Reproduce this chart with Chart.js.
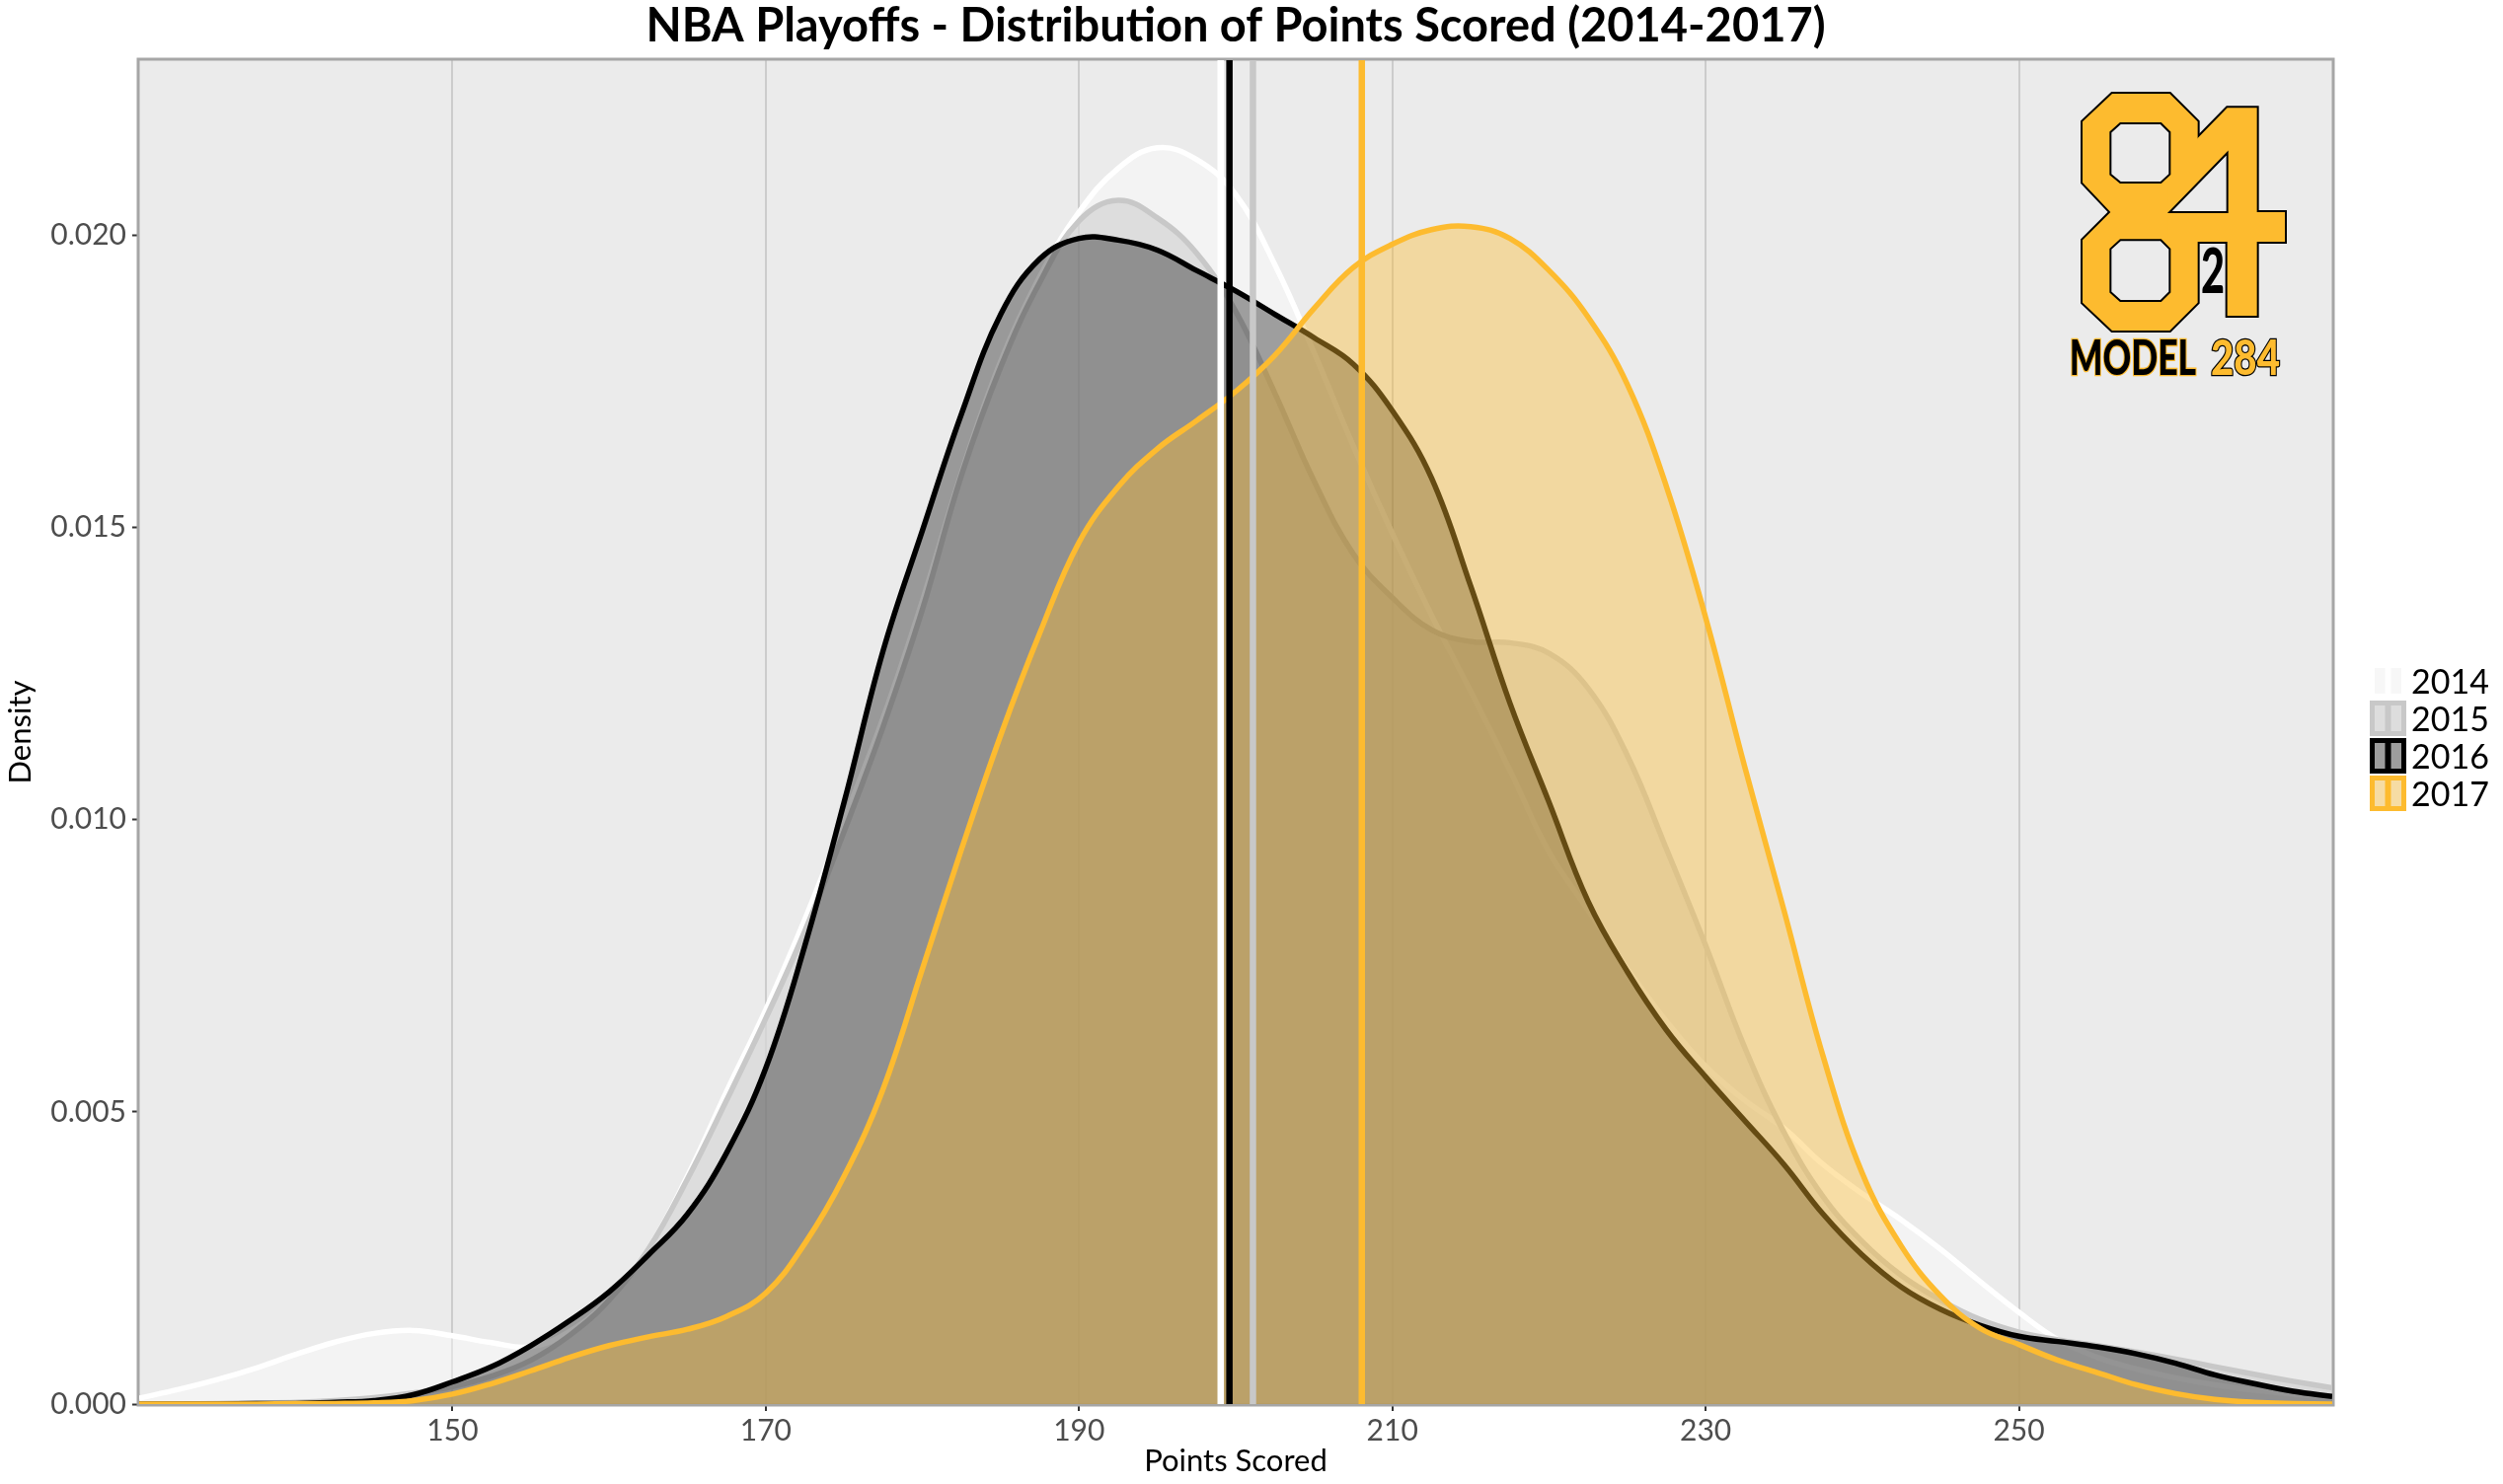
<!DOCTYPE html>
<html>
<head>
<meta charset="utf-8">
<title>NBA Playoffs - Distribution of Points Scored (2014-2017)</title>
<script src="https://cdn.jsdelivr.net/npm/chart.js@4.4.1/dist/chart.umd.min.js"></script>
<style>
  html, body { margin: 0; padding: 0; background: #ffffff; }
  #wrap { width: 2536px; height: 1504px; }
</style>
</head>
<body>
<div id="wrap"><canvas id="densityChart" width="2536" height="1504"></canvas></div>
<script>
// points scored grid (x) and estimated density per season
const points = [130, 132.5, 135, 137.5, 140, 142.5, 145, 147.5, 150, 152.5, 155, 157.5, 160, 162.5, 165, 167.5,
  170, 172.5, 175, 177.5, 180, 182.5, 185, 187.5, 190, 192.5, 195, 197.5, 200, 202.5, 205, 207.5,
  210, 212.5, 215, 217.5, 220, 222.5, 225, 227.5, 230, 232.5, 235, 237.5, 240, 242.5, 245, 247.5,
  250, 252.5, 255, 257.5, 260, 262.5, 265, 267.5, 270];

const density2014 = [0.00010, 0.00025, 0.00042, 0.00062, 0.00085, 0.00106, 0.00121, 0.00126, 0.00117, 0.00105, 0.00098, 0.00125,
  0.00180, 0.00265, 0.00390, 0.00535, 0.00675, 0.00830, 0.01000, 0.01175, 0.01375, 0.01595, 0.01785, 0.01930,
  0.02040, 0.02115, 0.02150, 0.02130, 0.02070, 0.01950, 0.01800, 0.01640, 0.01490, 0.01350, 0.01220, 0.01085,
  0.00945, 0.00845, 0.00745, 0.00655, 0.00578, 0.00520, 0.00472, 0.00410, 0.00360, 0.00315, 0.00265, 0.00210,
  0.00157, 0.00110, 0.00080, 0.00060, 0.00045, 0.00033, 0.00024, 0.00017, 0.00012];

const density2015 = [0, 0, 0.00001, 0.00002, 0.00003, 0.00006, 0.00011, 0.00019, 0.00030, 0.00048, 0.00075, 0.00118,
  0.00178, 0.00265, 0.00385, 0.00520, 0.00660, 0.00810, 0.00980, 0.01160, 0.01360, 0.01590, 0.01775, 0.01920,
  0.02025, 0.02060, 0.02030, 0.01970, 0.01870, 0.01730, 0.01580, 0.01455, 0.01380, 0.01325, 0.01305, 0.01303,
  0.01285, 0.01225, 0.01110, 0.00950, 0.00785, 0.00610, 0.00465, 0.00355, 0.00278, 0.00220, 0.00178, 0.00145,
  0.00123, 0.00110, 0.00100, 0.00089, 0.00077, 0.00064, 0.00051, 0.00039, 0.00028];

const density2016 = [0, 0, 0, 0.00001, 0.00001, 0.00003, 0.00006, 0.00016, 0.00038, 0.00064, 0.00100, 0.00143,
  0.00192, 0.00255, 0.00325, 0.00430, 0.00575, 0.00785, 0.01030, 0.01290, 0.01495, 0.01695, 0.01865, 0.01960,
  0.01995, 0.01992, 0.01975, 0.01940, 0.01905, 0.01865, 0.01825, 0.01780, 0.01700, 0.01585, 0.01400, 0.01200,
  0.01030, 0.00860, 0.00740, 0.00640, 0.00560, 0.00485, 0.00410, 0.00325, 0.00255, 0.00200, 0.00162, 0.00135,
  0.00116, 0.00107, 0.00098, 0.00086, 0.00070, 0.00050, 0.00035, 0.00022, 0.00013];

const density2017 = [0, 0, 0, 0, 0.00001, 0.00001, 0.00002, 0.00006, 0.00017, 0.00035, 0.00057, 0.00080,
  0.00100, 0.00115, 0.00128, 0.00150, 0.00190, 0.00275, 0.00390, 0.00540, 0.00745, 0.00950, 0.01145, 0.01320,
  0.01475, 0.01570, 0.01635, 0.01683, 0.01733, 0.01795, 0.01875, 0.01945, 0.01985, 0.02010, 0.02015, 0.01995,
  0.01940, 0.01860, 0.01745, 0.01570, 0.01346, 0.01090, 0.00845, 0.00595, 0.00395, 0.00270, 0.00185, 0.00130,
  0.00102, 0.00075, 0.00054, 0.00033, 0.00018, 0.00008, 0.00003, 0.00001, 0];

const years = ['2014', '2015', '2016', '2017'];
const meanPoints = [199.04, 201.1, 199.6, 208.05];
const xTicks = [150, 170, 190, 210, 230, 250];
const yTicks = [0, 0.005, 0.010, 0.015, 0.020];

const lineColors = ['#ffffff', '#c8c8c8', '#000000', '#fdbb2f'];
const fillColors = ['rgba(255,255,255,0.4)', 'rgba(200,200,200,0.5)', 'rgba(0,0,0,0.35)', 'rgba(253,187,47,0.4)'];
const keyFills = ['#f7f7f7', '#dddddd', '#9d9d9d', '#f6dca4'];
const gold = '#fdbb2f';
const fontFamily = 'Lato, "Open Sans", sans-serif';

const series = [density2014, density2015, density2016, density2017];

let datasets = years.map((y, i) => ({
  label: y,
  data: points.map((p, j) => ({ x: p, y: series[i][j] })),
  borderColor: lineColors[i],
  backgroundColor: fillColors[i],
  borderWidth: 5.5,
  fill: 'origin',
  tension: 0.4,
  pointRadius: 0,
  order: 3 - i
}));

function poly(ctx, pts) {
  ctx.beginPath();
  ctx.moveTo(pts[0][0], pts[0][1]);
  for (let i = 1; i < pts.length; i++) ctx.lineTo(pts[i][0], pts[i][1]);
  ctx.closePath();
}

function drawLogo(ctx) {
  // coordinates in thirds of a pixel, origin near the top-right of the panel
  const eight = [[270,105],[445,105],[530,190],[530,375],[440,465],[530,555],[530,740],[445,825],
    [270,825],[180,740],[180,550],[265,465],[180,375],[180,190]];
  const four = [[530,240],[620,148],[710,148],[710,465],[795,465],[795,555],[710,555],[710,780],
    [620,780],[620,555],[440,555],[440,330]];
  const holes = [
    [[295,195],[418,195],[445,222],[445,350],[418,375],[295,375],[265,350],[265,222]],
    [[295,550],[418,550],[445,577],[445,708],[418,735],[295,735],[265,708],[265,577]],
    [[620,285],[620,465],[445,465]]
  ];
  ctx.save();
  ctx.translate(2050, 60);
  ctx.scale(1 / 3, 1 / 3);
  ctx.lineJoin = 'miter';
  ctx.strokeStyle = '#000';
  ctx.lineWidth = 12;
  poly(ctx, eight); ctx.stroke();
  poly(ctx, four); ctx.stroke();
  ctx.fillStyle = gold;
  poly(ctx, eight); ctx.fill();
  poly(ctx, four); ctx.fill();
  ctx.lineWidth = 6;
  holes.forEach(h => {
    poly(ctx, h);
    ctx.fillStyle = '#ebebeb';
    ctx.fill();
    ctx.stroke();
  });

  function fitText(txt, x, w, base, size, fill, stroke, lw) {
    ctx.save();
    ctx.font = '900 ' + size + 'px ' + fontFamily;
    ctx.textAlign = 'left';
    ctx.textBaseline = 'alphabetic';
    const mw = ctx.measureText(txt).width;
    ctx.translate(x, base);
    ctx.scale(w / mw, 1);
    if (lw) {
      ctx.lineWidth = lw;
      ctx.strokeStyle = stroke;
      ctx.strokeText(txt, 0, 0);
    }
    ctx.fillStyle = fill;
    ctx.fillText(txt, 0, 0);
    ctx.restore();
  }
  // small "2" tucked under the crossbar
  fitText('2', 540, 72, 712, 190, '#000', '#000', 0);
  // MODEL 284 wordmark
  fitText('MODEL', 140, 385, 960, 146, '#000', gold, 8);
  fitText('284', 570, 210, 960, 146, gold, '#000', 8);
  ctx.restore();
}

const ggDecor = {
  id: 'ggDecor',
  beforeDraw(chart) {
    const { ctx, chartArea: a } = chart;
    ctx.save();
    ctx.fillStyle = '#ffffff';
    ctx.fillRect(0, 0, chart.width, chart.height);
    ctx.fillStyle = '#ebebeb';
    ctx.fillRect(a.left, a.top, a.right - a.left, a.bottom - a.top);
    ctx.restore();
  },
  beforeDatasetsDraw(chart) {
    const { ctx, chartArea: a } = chart;
    ctx.save();
    ctx.strokeStyle = '#a6a6a6';
    ctx.lineWidth = 3;
    ctx.strokeRect(a.left - 1, a.top - 1, a.right - a.left + 2, a.bottom - a.top + 2);
    ctx.restore();
  },
  afterDatasetsDraw(chart) {
    const { ctx, chartArea: a, scales } = chart;
    ctx.save();
    ctx.beginPath();
    ctx.rect(a.left, a.top, a.right - a.left, a.bottom - a.top);
    ctx.clip();
    meanPoints.forEach((m, i) => {
      const px = scales.x.getPixelForValue(m);
      ctx.strokeStyle = lineColors[i];
      ctx.lineWidth = 6.5;
      ctx.beginPath();
      ctx.moveTo(px, a.top);
      ctx.lineTo(px, a.bottom);
      ctx.stroke();
    });
    ctx.restore();
    drawLogo(ctx);
  },
  afterDraw(chart) {
    const { ctx, chartArea: a } = chart;
    ctx.save();
    // title
    ctx.fillStyle = '#000';
    ctx.font = 'bold 47px ' + fontFamily;
    ctx.textAlign = 'center';
    ctx.textBaseline = 'alphabetic';
    ctx.fillText('NBA Playoffs - Distribution of Points Scored (2014-2017)', (a.left + a.right) / 2, 42);

    // legend
    const kx = 2401, kw = 37, kh = 36;
    years.forEach((y, i) => {
      const ky = 672 + i * 38;
      ctx.fillStyle = '#f2f2f2';
      ctx.fillRect(kx, ky, kw, kh);
      ctx.fillStyle = keyFills[i];
      ctx.fillRect(kx, ky, kw, kh);
      ctx.strokeStyle = lineColors[i];
      ctx.lineWidth = 5;
      ctx.strokeRect(kx + 2.5, ky + 2.5, kw - 5, kh - 5);
      ctx.fillStyle = lineColors[i];
      ctx.fillRect(kx + kw / 2 - 3, ky, 6, kh);
      ctx.fillStyle = '#000';
      ctx.font = '34px ' + fontFamily;
      ctx.textAlign = 'left';
      ctx.fillText(y, kx + 42, ky + 31);
    });
    ctx.restore();
  }
};

const ctx = document.getElementById('densityChart');
Chart.defaults.font.family = fontFamily;

new Chart(ctx, {
  type: 'line',
  data: { datasets: datasets },
  options: {
    responsive: false,
    animation: false,
    devicePixelRatio: 1,
    layout: { padding: { top: 61, right: 173, left: 0, bottom: 0 } },
    plugins: {
      legend: { display: false },
      title: { display: false },
      tooltip: { enabled: false }
    },
    scales: {
      x: {
        type: 'linear',
        min: 130,
        max: 270,
        afterBuildTicks: s => { s.ticks = xTicks.map(v => ({ value: v })); },
        afterFit: s => { s.height = 81; },
        border: { display: false },
        grid: { color: '#cccccc', lineWidth: 2, tickColor: '#333333', tickLength: 7, tickWidth: 2 },
        ticks: { color: '#4d4d4d', font: { size: 30 }, padding: 2, maxRotation: 0 },
        title: { display: true, text: 'Points Scored', color: '#000', font: { size: 31 }, padding: { top: 0, bottom: 4 } }
      },
      y: {
        min: 0,
        max: 0.023,
        afterBuildTicks: s => { s.ticks = yTicks.map(v => ({ value: v })); },
        afterFit: s => { s.width = 141; },
        border: { display: false },
        grid: { drawOnChartArea: false, tickColor: '#333333', tickLength: 7, tickWidth: 2 },
        ticks: { color: '#4d4d4d', font: { size: 30 }, padding: 6, callback: v => Number(v).toFixed(3) },
        title: { display: true, text: 'Density', color: '#000', font: { size: 31 }, padding: { top: 2, bottom: 0 } }
      }
    }
  },
  plugins: [ggDecor]
});
</script>
</body>
</html>
